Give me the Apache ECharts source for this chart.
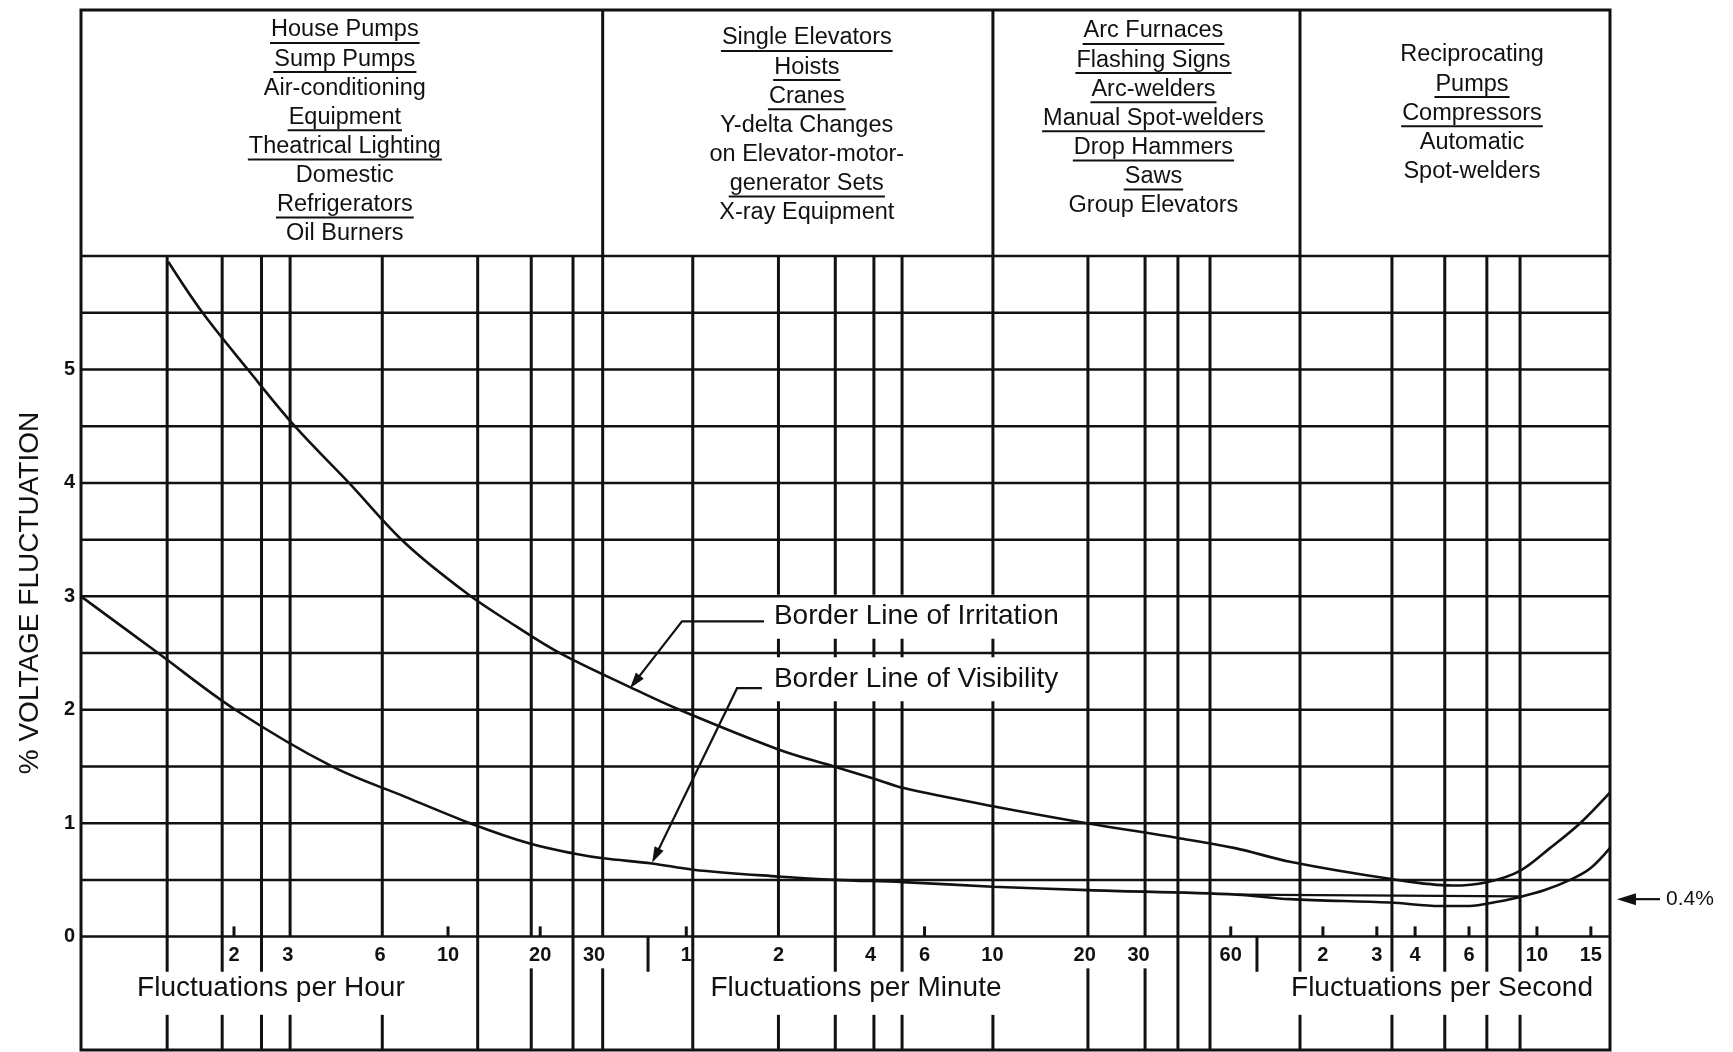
<!DOCTYPE html>
<html>
<head>
<meta charset="utf-8">
<title>Voltage Fluctuation</title>
<script src="https://cdn.jsdelivr.net/npm/echarts@6.0.0/dist/echarts.min.js"></script>
<style>
  html, body { margin: 0; padding: 0; background: #fff; }
  #main { width: 1733px; height: 1052px; }
</style>
</head>
<body>
<div id="main"></div>
<script>
// x = fluctuations per hour (log scale), y = % voltage fluctuation
var xRange = [0.633, 62360];
var yRange = [-1, 8.17];

var gridLevels = [0, 0.5, 1, 1.5, 2, 2.5, 3, 3.5, 4, 4.5, 5, 5.5, 6];
var yLabels = [0, 1, 2, 3, 4, 5];

// vertical rules (fluctuations per hour)
var fullLines = [12.5, 25.6, 63, 2420, 3080];
var upperLines = [1.21, 1.83, 2.46, 3.05, 6.1, 18.7, 32, 120, 184, 246, 304, 602, 1230, 1890, 6060, 12100, 18000, 24700, 31700];
var nearLowerLines = [1.21, 1.83, 2.46, 45, 184, 304, 4385, 6060, 12100, 18000, 24700, 31700];
var farLowerLines = [1.21, 1.83, 2.46, 3.05, 6.1, 120, 184, 246, 304, 602, 6060, 12100, 18000, 24700, 31700];
var longLowerLines = [18.7, 32, 1230, 1890];
var headerDividers = [32, 602, 6060];
var minorTicks = [2, 10, 20, 60, 360, 3600, 7200, 10800, 14400, 21600, 36000, 54000];

// tick labels per unit
var perHour = [2, 3, 6, 10, 20, 30];
var perMinute = [1, 2, 4, 6, 10, 20, 30, 60];
var perSecond = [2, 3, 4, 6, 10, 15];
var unitNames = ['Fluctuations per Hour', 'Fluctuations per Minute', 'Fluctuations per Second'];

var irritation = [[1.22, 5.95], [1.58, 5.5], [2.22, 5.0], [3.16, 4.5], [4.75, 4.0], [7.24, 3.47], [11.6, 3.02],
  [16.6, 2.74], [23.2, 2.5], [39.3, 2.2], [57, 2.0], [120, 1.65], [182, 1.5], [248, 1.39], [308, 1.31], [602, 1.15],
  [1220, 1.0], [2420, 0.87], [3720, 0.78], [5620, 0.66], [11900, 0.51], [19100, 0.45], [24700, 0.48],
  [31700, 0.58], [39700, 0.78], [49800, 1.0], [62300, 1.27]];
var visibility = [[0.633, 3.0], [1.13, 2.5], [2.02, 2.0], [4.18, 1.5], [7.29, 1.23], [11.8, 1.0], [18.5, 0.82],
  [26, 0.73], [32.1, 0.69], [46.4, 0.645], [63.1, 0.59], [120, 0.53], [184, 0.5], [306, 0.48], [602, 0.44],
  [1230, 0.41], [3770, 0.37], [5620, 0.33], [11900, 0.3], [17400, 0.27], [21800, 0.27], [24700, 0.29],
  [31700, 0.35], [38200, 0.41], [46200, 0.5], [53700, 0.6], [62300, 0.78]];
var flatPart = [[3770, 0.37], [31700, 0.355]];

var callouts = ['Border Line of Irritation', 'Border Line of Visibility'];

// header table: [text, underlined]
var headerCols = [
  [['House Pumps', 1], ['Sump Pumps', 1], ['Air-conditioning', 0], ['Equipment', 1], ['Theatrical Lighting', 1], ['Domestic', 0], ['Refrigerators', 1], ['Oil Burners', 0]],
  [['Single Elevators', 1], ['Hoists', 1], ['Cranes', 1], ['Y-delta Changes', 0], ['on Elevator-motor-', 0], ['generator Sets', 1], ['X-ray Equipment', 0]],
  [['Arc Furnaces', 1], ['Flashing Signs', 1], ['Arc-welders', 1], ['Manual Spot-welders', 1], ['Drop Hammers', 1], ['Saws', 1], ['Group Elevators', 0]],
  [['Reciprocating', 0], ['Pumps', 1], ['Compressors', 1], ['Automatic', 0], ['Spot-welders', 0]]
];

// layout (axis units unless noted)
var layout = {
  tickLabelY: -0.17, unitLabelY: -0.46,
  nearEnd: -0.31, farStart: -0.69, longStart: -0.28, tickTop: 0.09,
  unitAnchors: [2.64, 215, 17630],
  calloutX: 111.7, calloutY: [2.82, 2.27],
  headerTop: [30, 38, 31, 55], headerShift: [3, 9, 7, 17], headerGap: 29.1   // px
};
var pointers = [
  [[107.7, 2.78], [58.1, 2.78], [39.3, 2.19]],
  [[106, 2.19], [87.9, 2.19], [46.4, 0.65]],
  [[90800, 0.33], [65700, 0.33]]
];
var pointerText = ['', '', '0.4%'];

var ink = '#111';
var family = '"Liberation Sans", Arial, Helvetica, sans-serif';

var vSegs = [];
fullLines.forEach(function (f) { vSegs.push([f, yRange[0], f, 6]); });
upperLines.forEach(function (f) { vSegs.push([f, 0, f, 6]); });
nearLowerLines.forEach(function (f) { vSegs.push([f, 0, f, layout.nearEnd]); });
farLowerLines.forEach(function (f) { vSegs.push([f, layout.farStart, f, yRange[0]]); });
longLowerLines.forEach(function (f) { vSegs.push([f, layout.longStart, f, yRange[0]]); });
headerDividers.forEach(function (f) { vSegs.push([f, 6, f, yRange[1]]); });
minorTicks.forEach(function (f) { vSegs.push([f, 0, f, layout.tickTop]); });
var hSegs = gridLevels.map(function (v) { return [xRange[0], v, xRange[1], v]; });

function ruleRenderer(width) {
  return function (params, api) {
    var a = api.coord([api.value(0), api.value(1)]);
    var b = api.coord([api.value(2), api.value(3)]);
    return { type: 'line', shape: { x1: a[0], y1: a[1], x2: b[0], y2: b[1] },
      style: { stroke: ink, lineWidth: width } };
  };
}

function pointerRenderer(params, api) {
  var pts = pointers[params.dataIndex].map(function (p) { return api.coord(p); });
  var n = pts.length, tip = pts[n - 1], prev = pts[n - 2];
  var ang = Math.atan2(tip[1] - prev[1], tip[0] - prev[0]);
  var L = n > 2 ? 16 : 19, W = n > 2 ? 5 : 6;
  var bx = tip[0] - L * Math.cos(ang), by = tip[1] - L * Math.sin(ang);
  var head = [tip, [bx + W * Math.sin(ang), by - W * Math.cos(ang)], [bx - W * Math.sin(ang), by + W * Math.cos(ang)]];
  var shaft = pts.slice(0, n - 1).concat([[bx + 2 * Math.cos(ang), by + 2 * Math.sin(ang)]]);
  var kids = [
    { type: 'polyline', shape: { points: shaft }, style: { stroke: ink, lineWidth: 2.2, fill: null } },
    { type: 'polygon', shape: { points: head }, style: { fill: ink } }
  ];
  var t = pointerText[params.dataIndex];
  if (t) {
    kids.push({ type: 'text', x: pts[0][0] + 6, y: pts[0][1],
      style: { text: t, fill: ink, font: '21px ' + family, textAlign: 'left', align: 'left', textVerticalAlign: 'middle', verticalAlign: 'middle' } });
  }
  return { type: 'group', children: kids };
}

var tickData = [];
perHour.forEach(function (v) { tickData.push({ value: [v, layout.tickLabelY], name: String(v) }); });
perMinute.forEach(function (v) { tickData.push({ value: [v * 60, layout.tickLabelY], name: String(v) }); });
perSecond.forEach(function (v) { tickData.push({ value: [v * 3600, layout.tickLabelY], name: String(v) }); });

var solid = { opacity: 1, color: ink };

var chart = echarts.init(document.getElementById('main'));
var option = {
  animation: false,
  textStyle: { fontFamily: family, color: ink },
  grid: { left: 81, right: 123, top: 10, bottom: 2, show: true, borderColor: ink, borderWidth: 3,
    backgroundColor: '#fff', containLabel: false, outerBoundsMode: 'none' },
  xAxis: { type: 'log', min: xRange[0], max: xRange[1], axisLine: { show: false }, axisTick: { show: false },
    axisLabel: { show: false }, splitLine: { show: false } },
  yAxis: { type: 'value', min: yRange[0], max: yRange[1], interval: 1,
    axisLine: { show: false }, axisTick: { show: false }, splitLine: { show: false },
    axisLabel: { margin: 6, fontSize: 20, fontWeight: 'bold', color: ink, fontFamily: family,
      formatter: function (v) { return yLabels.indexOf(v) >= 0 ? String(v) : ''; } } },
  series: [
    { type: 'custom', name: 'vrules', renderItem: ruleRenderer(3), data: vSegs, encode: { x: [0, 2], y: [1, 3] }, silent: true, z: 2 },
    { type: 'line', name: 'Irritation', data: irritation, smooth: 0.35, symbol: 'none', silent: true, z: 5,
      lineStyle: { color: ink, width: 2.6 } },
    { type: 'line', name: 'Visibility', data: visibility, smooth: 0.35, symbol: 'none', silent: true, z: 5,
      lineStyle: { color: ink, width: 2.6 } },
    { type: 'line', name: 'Flat', data: flatPart, symbol: 'none', silent: true, z: 5,
      lineStyle: { color: ink, width: 2.4 } },
    { type: 'scatter', name: 'callouts', symbolSize: 0, silent: true, z: 6, itemStyle: solid,
      data: callouts.map(function (c, i) { return { value: [layout.calloutX, layout.calloutY[i]], name: c }; }),
      label: { show: true, position: 'right', distance: 0, formatter: '{b}', fontSize: 28, lineHeight: 28,
        color: ink, fontFamily: family, backgroundColor: '#fff', padding: [8, 5] } },
    { type: 'custom', name: 'pointers', renderItem: pointerRenderer, silent: true, z: 7, clip: false,
      data: pointers.map(function (p) { return p[p.length - 1]; }), encode: { x: 0, y: 1 } },
    { type: 'custom', name: 'hrules', renderItem: ruleRenderer(2.5), data: hSegs, encode: { x: [0, 2], y: [1, 3] }, silent: true, z: 8 },
    { type: 'scatter', name: 'ticks', symbolSize: 0, silent: true, z: 9, data: tickData, itemStyle: solid,
      label: { show: true, position: 'inside', formatter: '{b}', fontSize: 20, fontWeight: 'bold', color: ink,
        fontFamily: family, textBorderWidth: 0 } },
    { type: 'scatter', name: 'units', symbolSize: 0, silent: true, z: 9, itemStyle: solid,
      data: unitNames.map(function (u, i) { return { value: [layout.unitAnchors[i], layout.unitLabelY], name: u }; }),
      label: { show: true, position: 'inside', formatter: '{b}', fontSize: 28, color: ink, fontFamily: family, textBorderWidth: 0 } }
  ]
};
chart.setOption(option);

// header table and y-axis title
var bounds = [xRange[0]].concat(headerDividers, [xRange[1]]).map(function (f) {
  return chart.convertToPixel({ xAxisIndex: 0 }, f);
});
var headerFont = '23.5px ' + family;
var ctx = document.createElement('canvas').getContext('2d');
ctx.font = headerFont;
var elements = [];
headerCols.forEach(function (col, c) {
  var cx = (bounds[c] + bounds[c + 1]) / 2 + layout.headerShift[c];
  col.forEach(function (row, r) {
    var y = layout.headerTop[c] + r * layout.headerGap;
    elements.push({ type: 'text', x: cx, y: y, z: 20,
      style: { text: row[0], font: headerFont, fill: ink, textAlign: 'center', align: 'center', textVerticalAlign: 'middle', verticalAlign: 'middle' } });
    if (row[1]) {
      var w = ctx.measureText(row[0]).width + 2;
      elements.push({ type: 'line', z: 20, shape: { x1: cx - w / 2, y1: y + 13, x2: cx + w / 2, y2: y + 13 },
        style: { stroke: ink, lineWidth: 2 } });
    }
  });
});
elements.push({ type: 'text', x: 30, y: 593, rotation: Math.PI / 2, z: 20,
  style: { text: '% VOLTAGE FLUCTUATION', font: '28px ' + family, fill: ink, textAlign: 'center', align: 'center', textVerticalAlign: 'middle', verticalAlign: 'middle' } });
chart.setOption({ graphic: { elements: elements } });
</script>
</body>
</html>
